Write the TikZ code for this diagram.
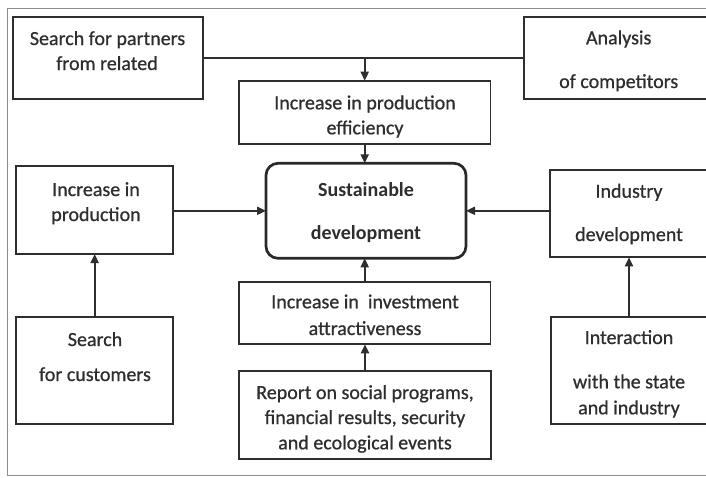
\documentclass[tikz,border=0pt]{standalone}
\usepackage{fontspec}
\setmainfont{Carlito}
\newfontfamily\heavyfont[FakeBold=0.7]{Carlito}
\usetikzlibrary{arrows.meta}
\definecolor{ink}{HTML}{2E2E2E}
\definecolor{frame}{HTML}{8C8C8C}
\begin{document}
\begin{tikzpicture}[x=1pt,y=-1pt,
  boxstyle/.style={draw=ink,line width=1.7pt,inner sep=0pt,outer sep=0pt},
  mainbox/.style={draw=ink!90!black,line width=2.7pt,rounded corners=12pt,inner sep=0pt,outer sep=0pt},
  txt/.style={anchor=base,inner sep=0pt,text=ink,font=\heavyfont\fontsize{20}{24}\selectfont},
  btxt/.style={txt,font=\fontsize{20}{24}\selectfont\bfseries},
  conn/.style={draw=ink,line width=1.9pt},
  arr/.style={conn,-{Triangle[length=9pt,width=8pt]}}]
\useasboundingbox (0,0) rectangle (706,477);
\clip (0,0) rectangle (706,477);
\fill[white] (0,0) rectangle (706,477);
% outer frame
\draw[frame,line width=1.3pt] (720,8.3) -- (7.3,8.3) -- (7.3,475.7) -- (720,475.7);
% boxes
\node[boxstyle,minimum width=189.4pt,minimum height=82pt] (A) at (108,58.3) {};
\node[boxstyle,minimum width=188.8pt,minimum height=82pt] (B) at (618.7,58.3) {};
\node[boxstyle,minimum width=251.8pt,minimum height=63.1pt] (C) at (364.7,112.25) {};
\node[mainbox,minimum width=200pt,minimum height=95pt] (D) at (366,210.8) {};
\node[boxstyle,minimum width=157.3pt,minimum height=88pt] (E) at (94.65,210) {};
\node[boxstyle,minimum width=157.8pt,minimum height=87.3pt] (F) at (629.2,213.65) {};
\node[boxstyle,minimum width=157.3pt,minimum height=107.6pt] (G) at (94.65,370.5) {};
\node[boxstyle,minimum width=156pt,minimum height=107.3pt] (J) at (629,370.35) {};
\node[boxstyle,minimum width=251.8pt,minimum height=62.6pt] (H) at (364.7,313) {};
\node[boxstyle,minimum width=252pt,minimum height=88.3pt] (I) at (365,414.85) {};
% texts
\node[txt] (A1) at (107.5,45) {Search for partners};
\node[txt] (A2) at (107,70) {from related};
\node[txt] (B1) at (618.7,44.3) {Analysis};
\node[txt] (B2) at (618.7,88) {of competitors};
\node[txt] (C1) at (365,109.3) {Increase in production};
\node[txt] (C2) at (365,134.3) {efficiency};
\node[btxt] (D1) at (366,196) {Sustainable};
\node[btxt] (D2) at (366,239.3) {development};
\node[txt] (E1) at (96,196) {Increase in};
\node[txt] (E2) at (96,221) {production};
\node[txt] (F1) at (629,197.7) {Industry};
\node[txt] (F2) at (629,241) {development};
\node[txt] (G1) at (95,346) {Search};
\node[txt] (G2) at (95,381) {for customers};
\node[txt] (J1) at (629,344) {Interaction};
\node[txt] (J2) at (629,388.3) {with the state};
\node[txt] (J3) at (629,414.3) {and industry};
\node[txt] (H1) at (365,308.3) {Increase in\ \ investment};
\node[txt] (H2) at (365,335) {attractiveness};
\node[txt] (I1) at (365,399) {Report on social programs,};
\node[txt] (I2) at (365,424) {financial results, security};
\node[txt] (I3) at (365,449.3) {and ecological events};
% connectors
\draw[conn] (A.east) -- (B.west);
\coordinate (jn) at (C.north |- A.east);
\draw[arr] (jn) -- (C.north);
\draw[arr] (C.south) -- (C.south |- D.north);
\draw[arr] (E.east |- D.center) -- (D.west);
\draw[arr] (F.west |- D.center) -- (D.east);
\draw[arr] (H.north) -- (H.north |- D.south);
\draw[arr] (I.north) -- (I.north |- H.south);
\draw[arr] (G.north) -- (G.north |- E.south);
\draw[arr] (J.north) -- (J.north |- F.south);
\end{tikzpicture}
\end{document}
